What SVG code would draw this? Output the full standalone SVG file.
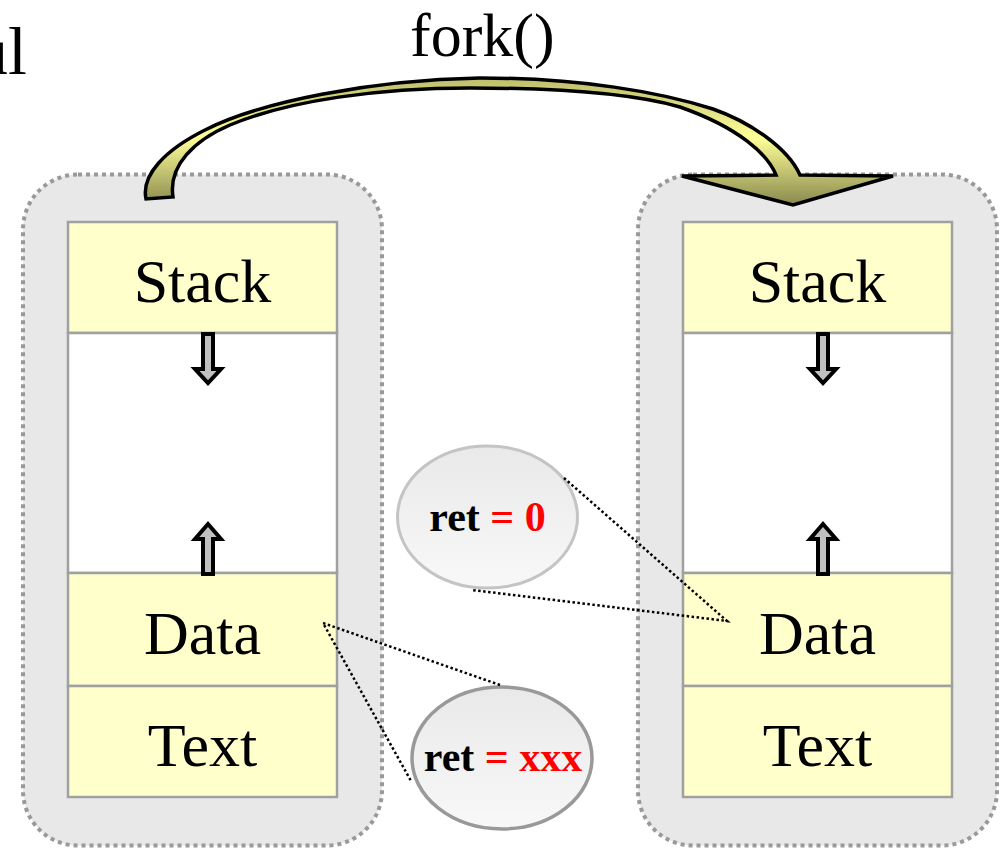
<svg xmlns="http://www.w3.org/2000/svg" width="1006" height="848" viewBox="0 0 1006 848">
  <defs>
    <linearGradient id="forkFill" gradientUnits="userSpaceOnUse" x1="0" y1="70" x2="0" y2="210">
      <stop offset="0" stop-color="#b4b466"/>
      <stop offset="0.48" stop-color="#ffff99"/>
      <stop offset="1" stop-color="#808048"/>
    </linearGradient>
    <linearGradient id="bubbleFill" x1="0" y1="0" x2="0" y2="1">
      <stop offset="0" stop-color="#e9e9e9"/>
      <stop offset="1" stop-color="#f8f8f8"/>
    </linearGradient>
  </defs>
  <style>
    .proc { fill: #e8e8e8; stroke: #999999; stroke-width: 4; stroke-dasharray: 4 4; }
    .seg { stroke: #a0a0a0; stroke-width: 2.5; }
    .yellow { fill: #ffffcc; }
    .blank { fill: #ffffff; }
    .label { font-family: "Liberation Serif", "Times New Roman", serif; font-size: 62px; fill: #000000; text-anchor: middle; }
    .title { font-family: "Liberation Serif", "Times New Roman", serif; fill: #000000; }
    .grow { fill: #c0c0c0; stroke: #000000; stroke-width: 4; stroke-linejoin: miter; }
    .ret { font-family: "Liberation Serif", "Times New Roman", serif; font-size: 42px; font-weight: bold; fill: #000000; text-anchor: middle; }
    .red { fill: #ff0000; }
    .callout { fill: none; stroke: #000000; stroke-width: 2.5; stroke-dasharray: 2.5 2.5; }
  </style>

  <text class="title" x="27" y="74" font-size="68" text-anchor="end">ul</text>

  <!-- parent process -->
  <g id="parent">
    <rect class="proc" x="23" y="174.5" width="359" height="671" rx="55" ry="55"/>
    <rect class="seg yellow" x="68" y="222" width="269" height="111"/>
    <rect class="seg blank" x="68" y="333" width="269" height="240"/>
    <rect class="seg yellow" x="68" y="573" width="269" height="113"/>
    <rect class="seg yellow" x="68" y="686" width="269" height="111"/>
    <text class="label" x="202.5" y="302">Stack</text>
    <text class="label" x="202.5" y="654">Data</text>
    <text class="label" x="202.5" y="766">Text</text>
    <path class="grow" d="M203,334 L213,334 L213,369 L221,369 L208,383 L195,369 L203,369 Z"/>
    <path class="grow" d="M208,524 L221,539 L213,539 L213,574 L203,574 L203,539 L195,539 Z"/>
  </g>

  <!-- child process -->
  <g id="child">
    <rect class="proc" x="638" y="174.5" width="359" height="671" rx="55" ry="55"/>
    <rect class="seg yellow" x="683" y="222" width="269" height="111"/>
    <rect class="seg blank" x="683" y="333" width="269" height="240"/>
    <rect class="seg yellow" x="683" y="573" width="269" height="113"/>
    <rect class="seg yellow" x="683" y="686" width="269" height="111"/>
    <text class="label" x="817.5" y="302">Stack</text>
    <text class="label" x="817.5" y="654">Data</text>
    <text class="label" x="817.5" y="766">Text</text>
    <path class="grow" d="M818,334 L828,334 L828,369 L836,369 L823,383 L810,369 L818,369 Z"/>
    <path class="grow" d="M823,524 L836,539 L828,539 L828,574 L818,574 L818,539 L810,539 Z"/>
  </g>

  <!-- return value bubbles -->
  <g id="ret-child">
    <ellipse cx="487.5" cy="517" rx="90" ry="71" fill="url(#bubbleFill)" stroke="#c4c4c4" stroke-width="3"/>
    <text class="ret" x="487.5" y="531">ret <tspan class="red">= 0</tspan></text>
  </g>
  <g id="ret-parent">
    <ellipse cx="502" cy="758" rx="90" ry="71" fill="url(#bubbleFill)" stroke="#999999" stroke-width="3.5"/>
    <text class="ret" x="503" y="771">ret <tspan class="red">= xxx</tspan></text>
  </g>

  <!-- connectors -->
  <g id="connectors">
    <path id="fork-arrow" fill="url(#forkFill)" stroke="#000000" stroke-width="3.5" stroke-linejoin="miter"
      d="M146,199 C141,175 165,150 205,130 C260,102 370,80 480,78 C580,78 660,92 713,109 C750,122 788,148 800,175 L893,176 L793,205 L682,176 L776,175 C768,155 740,128 680,107 C620,90 530,88 470,88 C380,88 290,100 230,125 C195,140 168,165 173,197 Z"/>
    <text class="title" x="410" y="56" font-size="62">fork()</text>
    <path class="callout" d="M564,478 L727,621 L472,590"/>
    <path class="callout" d="M500,685 L323,623 L411,781"/>
  </g>
</svg>
